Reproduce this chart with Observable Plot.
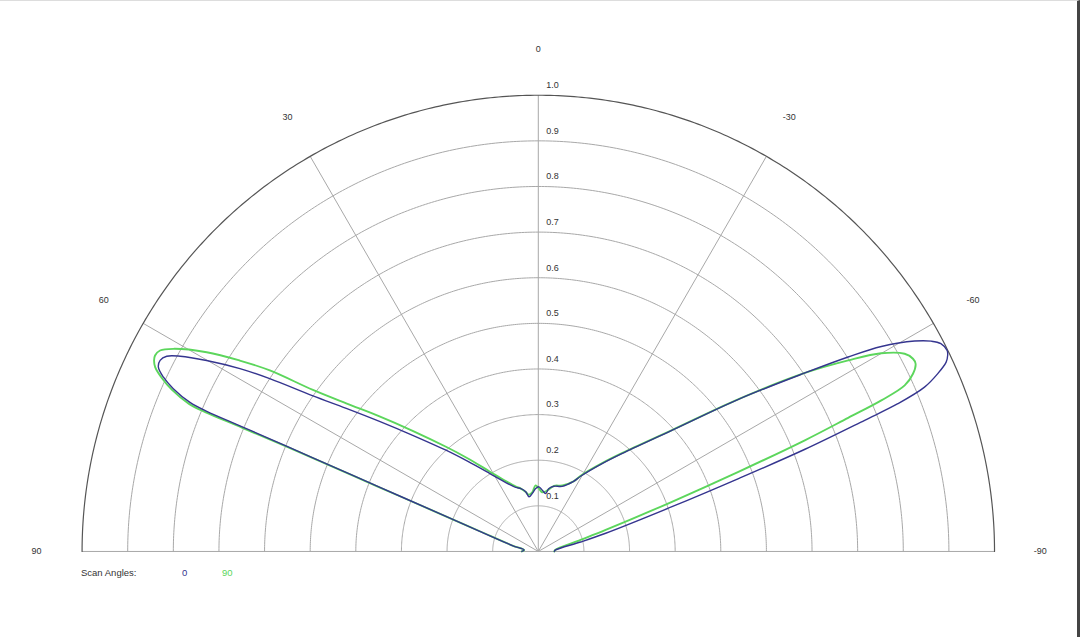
<!DOCTYPE html>
<html>
<head>
<meta charset="utf-8">
<script src="https://cdn.jsdelivr.net/npm/d3@7"></script>
<script src="https://cdn.jsdelivr.net/npm/@observablehq/plot@0.6"></script>
<style>
  html, body { margin: 0; padding: 0; background: #fff; }
  body { width: 1080px; height: 637px; box-sizing: border-box; border-top: 1px solid #ddd; border-right: 3px solid #444; overflow: hidden; font-family: "Liberation Sans", Arial, sans-serif; }
  #chart svg { display: block; }
  #legend { position: relative; height: 20px; font-size: 9.5px; color: #333; }
  #legend span { position: absolute; top: 3px; }
</style>
</head>
<body>
<div id="chart"></div>
<div id="legend">
  <span style="left:81px">Scan Angles:</span>
  <span style="left:182px;color:#35358f">0</span>
  <span style="left:222px;color:#5cd65c">90</span>
</div>
<script>
// Series "0" (scan angle 0): polar angle in degrees (positive = left) and normalised amplitude
const angles0 = [-90, -85, -77.4, -74.9, -71.5, -70.0, -69.03, -68.1, -67.66, -66.95, -66.0, -65.1, -64.4, -63.83, -62.7, -61.85, -60.79, -59.14, -57.89, -56.2, -52.77, -47.8, -40.5, -36, -29.5, -26.7, -20.1, -13.5, -9.6, -7.2, -3.7, -0.6, 2.4, 5.9, 9.6, 11.9, 15.5, 19.4, 25.29, 32.13, 38.12, 42.37, 47.24, 50.67, 53.3, 55.38, 57.25, 58.5, 60.07, 61.4, 62.28, 63.2, 64.12, 65.07, 65.96, 66.83, 67.09, 67.16, 67.44, 67.96, 69.19, 70.93, 77.2, 84, 90];
const radii0  = [0.035, 0.038, 0.095, 0.153, 0.309, 0.467, 0.626, 0.771, 0.852, 0.920, 0.9585, 0.9856, 0.995, 0.9985, 0.993, 0.977, 0.9451, 0.8759, 0.8018, 0.7033, 0.551, 0.395, 0.282, 0.238, 0.19, 0.172, 0.152, 0.147, 0.14, 0.128, 0.1347, 0.1417, 0.138, 0.128, 0.1215, 0.134, 0.143, 0.149, 0.1668, 0.2026, 0.2514, 0.3003, 0.375, 0.45, 0.525, 0.6002, 0.7, 0.767, 0.839, 0.894, 0.92, 0.9287, 0.9256, 0.906, 0.876, 0.8305, 0.789, 0.7027, 0.535, 0.3757, 0.2165, 0.1371, 0.0583, 0.0314, 0.036];

// Series "90" (scan angle 90)
const angles90 = [-90, -85, -74.8, -72.3, -69.6, -68.3, -67.36, -66.67, -66.23, -65.62, -64.63, -63.55, -62.78, -61.65, -59.97, -58.35, -56.2, -52.77, -47.8, -40.5, -36, -29.5, -26.7, -20.1, -13.5, -9.6, -7.2, -3.7, -0.6, 2.4, 5.9, 9.6, 11.9, 15.5, 19.4, 24.8, 31.48, 37.21, 41.41, 46.16, 49.61, 52.37, 54.37, 56.01, 57.4, 59.0, 60.96, 62.02, 62.92, 63.57, 64.3, 65.26, 66.2, 67.09, 67.3, 67.32, 67.5, 68.0, 69.2, 70.9, 77.2, 84, 90];
const radii90  = [0.035, 0.037, 0.096, 0.155, 0.3125, 0.472, 0.633, 0.7396, 0.8216, 0.8817, 0.909, 0.9237, 0.9235, 0.9125, 0.868, 0.798, 0.7033, 0.553, 0.397, 0.284, 0.24, 0.192, 0.172, 0.154, 0.148, 0.138, 0.133, 0.13, 0.138, 0.145, 0.13, 0.126, 0.133, 0.143, 0.151, 0.1698, 0.2063, 0.2566, 0.306, 0.3819, 0.457, 0.5316, 0.6078, 0.7098, 0.7767, 0.848, 0.915, 0.9388, 0.9435, 0.9405, 0.932, 0.9086, 0.8774, 0.8312, 0.79, 0.703, 0.536, 0.377, 0.217, 0.137, 0.058, 0.031, 0.036];

// Grid / labels
const ringValues = [0.1, 0.2, 0.3, 0.4, 0.5, 0.6, 0.7, 0.8, 0.9, 1.0];
const ringLabels = ["0.1", "0.2", "0.3", "0.4", "0.5", "0.6", "0.7", "0.8", "0.9", "1.0"];
const spokeAngles = [-90, -60, -30, 0, 30, 60, 90];
const spokeLabels = ["-90", "-60", "-30", "0", "30", "60", "90"];

const rad = Math.PI / 180;
const px = (a, r) => -r * Math.sin(a * rad);
const py = (a, r) => r * Math.cos(a * rad);

const s0 = angles0.map((a, i) => ({angle: a, r: radii0[i]}));
const s90 = angles90.map((a, i) => ({angle: a, r: radii90[i]}));

const arcSteps = d3.range(-90, 90.25, 0.5);
const rings = ringValues.flatMap(r => arcSteps.map(a => ({ring: r, angle: a})));
const spokes = spokeAngles.map((a, i) => ({angle: a, label: spokeLabels[i]}));
const ringLab = ringValues.map((r, i) => ({r, label: ringLabels[i]}));

const chart = Plot.plot({
  width: 1080,
  height: 565,
  marginLeft: 81.8,
  marginRight: 83.2,
  marginTop: 94,
  marginBottom: 13.5,
  x: {domain: [-1, 1], axis: null},
  y: {domain: [0, 1], axis: null},
  style: {fontFamily: "Liberation Sans, Arial, sans-serif", fontSize: "9px", background: "white"},
  marks: [
    Plot.line(rings.filter(d => d.ring < 1), {
      x: d => px(d.angle, d.ring), y: d => py(d.angle, d.ring), z: "ring",
      stroke: "#a8a8a8", strokeWidth: 1
    }),
    Plot.link(spokes, {
      x1: 0, y1: 0,
      x2: d => px(d.angle, 1), y2: d => py(d.angle, 1),
      stroke: "#a8a8a8", strokeWidth: 1
    }),
    Plot.line(rings.filter(d => d.ring === 1), {
      x: d => px(d.angle, d.ring), y: d => py(d.angle, d.ring),
      stroke: "#555", strokeWidth: 1.2
    }),
    Plot.line(s90, {
      x: d => px(d.angle, d.r), y: d => py(d.angle, d.r),
      stroke: "#5cd65c", strokeWidth: 1.9, curve: "catmull-rom"
    }),
    Plot.line(s0, {
      x: d => px(d.angle, d.r), y: d => py(d.angle, d.r),
      stroke: "#35358f", strokeWidth: 1.4, curve: "catmull-rom"
    }),
    Plot.text(spokes, {
      x: d => px(d.angle, 1.1), y: d => py(d.angle, 1.1),
      text: "label", fill: "#333", fontSize: 9
    }),
    Plot.text(ringLab, {
      x: 0, y: "r", text: "label", dx: 8, dy: -10,
      textAnchor: "start", fill: "#333", fontSize: 9
    })
  ]
});
document.getElementById("chart").appendChild(chart);
</script>
</body>
</html>
